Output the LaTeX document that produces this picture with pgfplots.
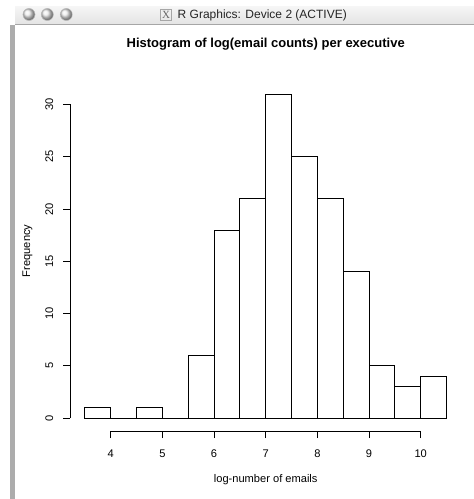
\documentclass[border=0pt]{standalone}
\usepackage{pgfplots}
\pgfplotsset{compat=1.18}
\usepackage{fontspec}
\setmainfont{Liberation Sans}
\newfontfamily\serifx{Liberation Serif}
\begin{document}
\begin{tikzpicture}[x=1bp,y=1bp]
\fill[white] (0,0) rectangle (474,499);
\path[use as bounding box] (0,0) rectangle (474,499);
% window chrome
\shade[top color=gray!8, bottom color=gray!22] (15,474) rectangle (474,492);
\draw[gray!70, line width=1bp] (15,474) -- (474,474);
\fill[gray!65] (10,0) rectangle (15,474);
\foreach \cx in {29,47.3,66.3}{
  \shade[ball color=gray!15] (\cx,484.5) circle (6);
  \draw[gray!55, line width=0.6bp] (\cx,484.5) circle (6);
}
\node[draw=gray!70, line width=0.5bp, inner sep=0.5bp, minimum size=11bp, font=\serifx\fontsize{11bp}{11bp}\selectfont, text=gray!80!black] at (166,484) {X};
\node[anchor=west, font=\fontsize{12bp}{14bp}\selectfont, text=black!85, inner sep=0] at (177.5,484) {R Graphics: Device 2 (ACTIVE)};
\begin{axis}[
  at={(70.4bp,68bp)}, anchor=south west,
  scale only axis, width=390.6bp, height=349.9bp,
  xmin=3.22, xmax=10.78, ymin=-1.24, ymax=32.24,
  axis x line=bottom, axis y line=left,
  axis line style={draw=none},
  xtick={4,5,...,10}, ytick={0,5,...,30},
  tick align=outside, major tick length=7bp,
  tick style={black, line width=0.8bp},
  clip=false,
  /pgf/number format/assume math mode=true,
  ticklabel style={font=\fontsize{11.1bp}{13bp}\selectfont},
  yticklabel style={rotate=90, anchor=center, yshift=14bp},
  xticklabel style={anchor=center, yshift=-16bp},
  title={Histogram of log(email counts) per executive},
  title style={font=\bfseries\fontsize{13bp}{15bp}\selectfont, at={(axis description cs:0.5,1.0886)}, anchor=center},
  xlabel={log-number of emails},
  xlabel style={font=\fontsize{11.1bp}{13bp}\selectfont, at={(axis description cs:0.5,-0.14)}, anchor=center},
  ylabel={Frequency},
  ylabel style={font=\fontsize{11.1bp}{13bp}\selectfont, at={(axis description cs:-0.11,0.515)}, anchor=center, rotate=0},
]
\addplot[ybar interval, fill=white, draw=black, line width=0.8bp] table {
x y
3.5 1
4 0
4.5 1
5 0
5.5 6
6 18
6.5 21
7 31
7.5 25
8 21
8.5 14
9 5
9.5 3
10 4
10.5 0
};
\draw[black, line width=0.8bp] (axis cs:4,-1.24) -- (axis cs:10,-1.24);
\draw[black, line width=0.8bp] (axis cs:3.22,0) -- (axis cs:3.22,30);
\end{axis}
\end{tikzpicture}
\end{document}
